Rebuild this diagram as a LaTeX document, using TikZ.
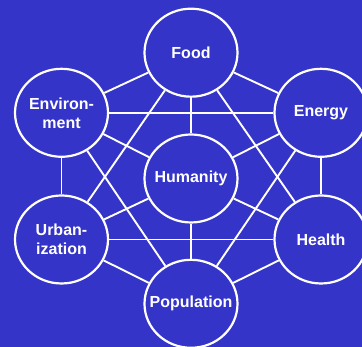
\documentclass[tikz,border=0pt]{standalone}
\usepackage{fontspec}
\setmainfont{Liberation Sans}
\usetikzlibrary{shapes.geometric}
\definecolor{bg}{RGB}{52,52,200}
\begin{document}
\begin{tikzpicture}[x=1pt,y=1pt,
  topic/.style={ellipse, draw=white, line width=2.2pt, fill=bg, minimum width=93pt, minimum height=88pt, inner sep=0pt},
  lbl/.style={text=white, font=\bfseries\fontsize{16}{19}\selectfont, align=center, inner sep=0pt},
  link/.style={draw=white, line width=1.9pt}]
\fill[bg] (0,0) rectangle (362,347);
\useasboundingbox (0,0) rectangle (362,347);
\clip (0,0) rectangle (362,347);
\node[topic, label={[lbl]center:Humanity}] (hum) at (191,168.5) {};
\node[topic, label={[lbl]center:Food}] (food) at (191,294.3) {};
\node[topic, label={[lbl]center:{Environ-\\ment}}] (env) at (61.5,234.2) {};
\node[topic, label={[lbl]center:Energy}] (ene) at (321,234.2) {};
\node[topic, label={[lbl]center:{Urban-\\ization}}] (urb) at (61.5,107.5) {};
\node[topic, label={[lbl]center:Health}] (hea) at (321,107.5) {};
\node[topic, label={[lbl]center:Population}] (pop) at (191,43.2) {};
\foreach \a/\b in {hum/food,hum/ene,hum/hea,hum/pop,hum/urb,hum/env,
  food/ene,ene/hea,hea/pop,pop/urb,urb/env,env/food,
  food/hea,food/urb,ene/pop,ene/env,hea/urb,pop/env}
  \draw[link] (\a) -- (\b);
\end{tikzpicture}
\end{document}
